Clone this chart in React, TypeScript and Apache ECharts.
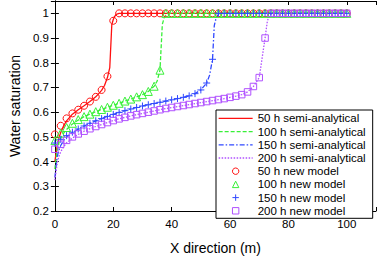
import React, { useEffect, useRef } from "react";
import * as echarts from "echarts";

const FONT = "'Liberation Sans', Arial, Helvetica, sans-serif";

// Marker positions (m) for the new-model results
const markerX = [
  0, 2, 4, 6, 8, 10, 12, 14, 16, 18, 20, 22, 24, 26, 28, 30, 32, 34, 36, 38, 40, 42, 44, 46, 48, 50,
  52, 54, 56, 58, 60, 62, 64, 66, 68, 70, 72, 74, 76, 78, 80, 82, 84, 86, 88, 90, 92, 94, 96, 98, 100,
];

const model50 = [
  0.51, 0.545, 0.575, 0.595, 0.61, 0.626, 0.643, 0.662, 0.69, 0.745, 0.97,
  1, 1, 1, 1, 1, 1, 1, 1, 1, 1, 1, 1, 1, 1, 1, 1, 1, 1, 1, 1, 1, 1, 1, 1, 1, 1, 1, 1, 1, 1, 1, 1, 1, 1, 1, 1, 1, 1, 1, 1,
];
const model100 = [
  0.485, 0.515, 0.538, 0.555, 0.57, 0.582, 0.592, 0.602, 0.611, 0.62, 0.628, 0.636, 0.645, 0.653, 0.662, 0.671, 0.684, 0.705, 0.77,
  1, 1, 1, 1, 1, 1, 1, 1, 1, 1, 1, 1, 1, 1, 1, 1, 1, 1, 1, 1, 1, 1, 1, 1, 1, 1, 1, 1, 1, 1, 1, 1,
];
const model150 = [
  0.475, 0.49, 0.505, 0.519, 0.532, 0.544, 0.555, 0.565, 0.574, 0.583, 0.591, 0.599, 0.606, 0.613, 0.619, 0.625, 0.63, 0.635,
  0.64, 0.645, 0.65, 0.655, 0.66, 0.666, 0.675, 0.69, 0.718, 0.814,
  1, 1, 1, 1, 1, 1, 1, 1, 1, 1, 1, 1, 1, 1, 1, 1, 1, 1, 1, 1, 1, 1, 1,
];
const model200 = [
  0.45, 0.47, 0.486, 0.5, 0.512, 0.523, 0.533, 0.542, 0.55, 0.558, 0.566, 0.573, 0.579, 0.585, 0.59, 0.595, 0.6, 0.605, 0.61,
  0.615, 0.619, 0.623, 0.627, 0.631, 0.635, 0.639, 0.643, 0.647, 0.651, 0.655, 0.66, 0.665, 0.671, 0.682, 0.704, 0.74, 0.9,
  1, 1, 1, 1, 1, 1, 1, 1, 1, 1, 1, 1, 1, 1,
];

// Semi-analytical profiles
const semi50X = [0, 0.3, 0.6, 1, 1.5, 2, 3, 4, 6, 8, 10, 12, 14, 16, 17, 18, 18.8, 19.5, 20, 20.5, 21, 22, 100];
const semi50Y = [0.4, 0.425, 0.45, 0.475, 0.5, 0.518, 0.545, 0.565, 0.592, 0.61, 0.626, 0.643, 0.662, 0.688, 0.708, 0.74, 0.78, 0.955, 0.975, 0.988, 0.996, 1, 1];

const semi100X = [0, 0.3, 0.7, 1, 1.5, 2, 3, 4, 6, 8, 10, 12, 14, 16, 18, 20, 22, 24, 26, 28, 30, 32, 34, 35, 36, 36.8, 37.5, 38.5, 100];
const semi100Y = [0.37, 0.4, 0.44, 0.46, 0.48, 0.495, 0.515, 0.53, 0.552, 0.568, 0.582, 0.592, 0.602, 0.611, 0.62, 0.628, 0.636, 0.645, 0.653, 0.662, 0.671, 0.684, 0.705, 0.725, 0.77, 0.955, 0.985, 1, 1];

const semi150X = [0, 0.3, 0.7, 1, 1.5, 2, 3, 4, 6, 8, 10, 12, 14, 16, 18, 20, 22, 24, 26, 28, 30, 32, 34, 36, 38, 40, 42, 44, 46, 48, 50, 52, 53, 54, 54.6, 55.3, 56.3, 100];
const semi150Y = [0.335, 0.37, 0.41, 0.43, 0.45, 0.465, 0.485, 0.5, 0.517, 0.531, 0.544, 0.555, 0.565, 0.574, 0.583, 0.591, 0.599, 0.606, 0.613, 0.619, 0.625, 0.63, 0.635, 0.64, 0.645, 0.65, 0.655, 0.66, 0.666, 0.675, 0.69, 0.718, 0.75, 0.814, 0.95, 0.985, 1, 1];

const semi200X = [0, 0.3, 0.7, 1, 1.5, 2, 3, 4, 6, 8, 10, 12, 14, 16, 18, 20, 22, 24, 26, 28, 30, 32, 34, 36, 38, 40, 42, 44, 46, 48, 50, 52, 54, 56, 58, 60, 62, 64, 66, 68, 70, 72, 72.8, 73.5, 74.5, 100];
const semi200Y = [0.325, 0.35, 0.385, 0.405, 0.425, 0.44, 0.46, 0.476, 0.495, 0.51, 0.523, 0.533, 0.542, 0.55, 0.558, 0.566, 0.573, 0.579, 0.585, 0.59, 0.595, 0.6, 0.605, 0.61, 0.615, 0.619, 0.623, 0.627, 0.631, 0.635, 0.639, 0.643, 0.647, 0.651, 0.655, 0.66, 0.665, 0.671, 0.682, 0.704, 0.74, 0.9, 0.97, 0.99, 1, 1];

const RED = "#ff1010";
const GREEN = "#38f038";
const BLUE = "#3048ff";
const PURPLE = "#b050ff";

const PLUS = "path://M5,0L5,10M0,5L10,5";

const pairs = (xs: number[], ys: number[]) => xs.map((x, i) => [x, ys[i]]);

export default function App() {
  const ref = useRef<HTMLDivElement>(null);
  useEffect(() => {
    if (!ref.current) return;
    const chart = echarts.init(ref.current, undefined, { renderer: "svg" });

    const lineSeries = (name: string, xs: number[], ys: number[], color: string, type: any) => ({
      name,
      type: "line",
      data: pairs(xs, ys),
      symbol: "none",
      smooth: false,
      z: 2,
      lineStyle: { color, width: 1.3, type },
      itemStyle: { color, opacity: 0 },
    });
    const markSeries = (name: string, ys: number[], color: string, symbol: string, size: number) => ({
      name,
      type: "line",
      data: pairs(markerX, ys),
      symbol,
      symbolSize: size,
      showSymbol: true,
      showAllSymbol: true,
      z: 3,
      lineStyle: { color, width: 0, opacity: 0 },
      itemStyle: { color: "rgba(0,0,0,0)", borderColor: color, borderWidth: 1 },
    });

    const tickFmtY = (v: number) => (Math.abs(v - 1.05) < 1e-6 ? "" : String(+v.toFixed(1)));
    const tickFmtX = (v: number) => (v > 100.5 ? "" : String(Math.round(v)));

    chart.setOption({
      animation: false,
      textStyle: { fontFamily: FONT },
      grid: { left: 41, right: 3, top: 1, bottom: 37.7 },
      xAxis: [
        {
          type: "value",
          min: 0,
          max: 110,
          interval: 20,
          position: "bottom",
          name: "X direction (m)",
          nameLocation: "middle",
          nameGap: 30,
          nameTextStyle: { fontSize: 14, color: "#000", fontFamily: FONT },
          axisLine: { show: true, lineStyle: { color: "#000", width: 1 } },
          axisTick: { show: true, inside: true, length: 4, lineStyle: { color: "#000" } },
          axisLabel: { color: "#000", fontSize: 11.5, margin: 6.5, fontFamily: FONT, formatter: tickFmtX },
          splitLine: { show: false },
        },
        {
          type: "value",
          min: 0,
          max: 110,
          interval: 20,
          position: "top",
          axisLine: { show: true, lineStyle: { color: "#000", width: 1 } },
          axisTick: { show: true, inside: true, length: 4, lineStyle: { color: "#000" } },
          axisLabel: { show: false },
          splitLine: { show: false },
        },
      ],
      yAxis: [
        {
          type: "value",
          min: 0.2,
          max: 1.05,
          interval: 0.1,
          position: "left",
          name: "Water saturation",
          nameLocation: "middle",
          nameGap: 25,
          nameTextStyle: { fontSize: 14, color: "#000", fontFamily: FONT },
          axisLine: { show: true, lineStyle: { color: "#000", width: 1 } },
          axisTick: { show: true, inside: true, length: 4, lineStyle: { color: "#000" } },
          axisLabel: { color: "#000", fontSize: 11.5, margin: 6, fontFamily: FONT, formatter: tickFmtY },
          splitLine: { show: false },
        },
        {
          type: "value",
          min: 0.2,
          max: 1.05,
          interval: 0.1,
          position: "right",
          axisLine: { show: true, lineStyle: { color: "#000", width: 1 } },
          axisTick: { show: true, inside: true, length: 4, lineStyle: { color: "#000" } },
          axisLabel: { show: false },
          splitLine: { show: false },
        },
      ],
      legend: {
        orient: "vertical",
        left: 216,
        top: 110,
        padding: [2.4, 7, 1.5, 2],
        itemWidth: 34,
        itemHeight: 8,
        itemGap: 1.2,
        borderColor: "#000",
        borderWidth: 1,
        backgroundColor: "#fff",
        itemStyle: { borderWidth: 1 },
        lineStyle: { width: 1.3 },
        textStyle: { fontSize: 11.5, color: "#000", fontFamily: FONT },
        data: [
          "50 h semi-analytical",
          "100 h semi-analytical",
          "150 h semi-analytical",
          "200 h semi-analytical",
          "50 h new model",
          "100 h new model",
          "150 h new model",
          "200 h new model",
        ],
      },
      series: [
        lineSeries("50 h semi-analytical", semi50X, semi50Y, RED, "solid"),
        lineSeries("100 h semi-analytical", semi100X, semi100Y, GREEN, [4, 2]),
        lineSeries("150 h semi-analytical", semi150X, semi150Y, BLUE, [5, 2, 1.5, 2]),
        lineSeries("200 h semi-analytical", semi200X, semi200Y, PURPLE, [1.5, 1.5]),
        markSeries("50 h new model", model50, RED, "circle", 7),
        markSeries("100 h new model", model100, GREEN, "triangle", 8),
        markSeries("150 h new model", model150, BLUE, PLUS, 7),
        markSeries("200 h new model", model200, PURPLE, "rect", 6.5),
      ],
    });
    return () => chart.dispose();
  }, []);
  return <div ref={ref} style={{ position: "absolute", left: 0, top: 0, width: 379, height: 260 }} />;
}
